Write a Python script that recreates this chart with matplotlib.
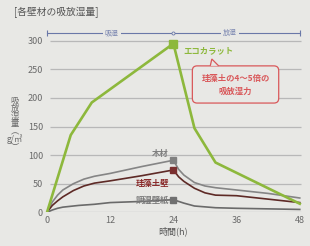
import numpy as np
import matplotlib
matplotlib.use("Agg")
import matplotlib.pyplot as plt
from matplotlib.patches import FancyBboxPatch, Polygon

plt.rcParams['font.family'] = ['Noto Sans CJK JP', 'DejaVu Sans']

# data (hours, g/m2)
eco_h = [0, 4.5, 8.5, 24, 28, 32, 48]
eco = [0, 135, 192, 295, 147, 87, 15]

wood_h = [0, 1, 2, 3, 5, 7, 9, 12, 18, 24, 25, 26, 28, 30, 32, 36, 42, 48]
wood = [0, 18, 30, 39, 50, 58, 63, 68, 80, 91, 75, 65, 52, 46, 43, 39, 33, 25]

dia_h = [0, 1, 2, 3, 5, 7, 9, 12, 18, 24, 25, 26, 28, 30, 32, 36, 42, 48]
dia = [0, 12, 20, 27, 38, 46, 51, 55, 64, 74, 62, 54, 42, 34, 30, 29, 23, 17]

paper_h = [0, 1, 2, 3, 6, 9, 12, 18, 24, 26, 28, 32, 36, 48]
paper = [0, 4, 7, 9, 12, 14, 17, 19, 22, 16, 11, 8, 7, 5]

xticks = [0, 12, 24, 36, 48]
yticks = [0, 50, 100, 150, 200, 250, 300]

bg = '#e8e8e5'
green = '#8db83c'
red = '#d9585a'
blue = '#6a78a8'

fig = plt.figure(figsize=(3.1, 2.46), dpi=100)
fig.patch.set_facecolor(bg)
ax = fig.add_axes([44.4 / 310, 0.137, 258 / 310, 0.744])
ax.set_facecolor(bg)
ax.set_xlim(-0.5, 48.5)
ax.set_ylim(0, 320)
for s in ax.spines.values():
    s.set_visible(False)

ax.hlines(yticks, 0.5, 48.3, color='#b8b8b8', lw=0.9, zorder=0)
ax.set_xticks(xticks)
ax.set_yticks(yticks)
ax.tick_params(length=0, labelsize=6.5, labelcolor='#6a6a6a')
ax.tick_params(axis='y', pad=1)
ax.tick_params(axis='x', pad=3)
ax.set_xlabel('時間(h)', fontsize=6.5, color='#555555', labelpad=1)

# lines
ax.plot(wood_h, wood, color='#858585', lw=1.2, zorder=2)
ax.plot(dia_h, dia, color='#5e2a26', lw=1.2, zorder=2)
ax.plot(paper_h, paper, color='#6a6a6a', lw=1.2, zorder=2)
ax.plot(eco_h, eco, color=green, lw=1.9, zorder=3)
ax.plot([24], [wood[wood_h.index(24)]], 's', ms=4.5, color='#808080', zorder=4)
ax.plot([24], [dia[dia_h.index(24)]], 's', ms=4.5, color='#7a2f2f', zorder=4)
ax.plot([24], [paper[paper_h.index(24)]], 's', ms=4.5, color='#707070', zorder=4)
ax.plot([24], [295], 's', ms=6, color=green, zorder=4)

# labels
ax.text(23, 102, '木材', ha='right', va='center', fontsize=6, color='#808080', fontweight='bold')
ax.text(23.2, 51, '珪藻土壁', ha='right', va='center', fontsize=6, color='#8a2a2a', fontweight='bold')
ax.text(23.2, 21, '調湿壁紙', ha='right', va='center', fontsize=6, color='#7a7a7a', fontweight='bold')
ax.text(25.9, 282, 'エコカラット', ha='left', va='center', fontsize=6, color=green, fontweight='bold')

# callout
box = FancyBboxPatch((27.6, 191), 16.4, 65, boxstyle='round,pad=0,rounding_size=0.9',
                     mutation_aspect=9.2, fc=bg, ec=red, lw=0.9, zorder=5)
ax.add_patch(box)
ax.add_patch(Polygon([(31.0, 256), (31.3, 268), (32.6, 256)], closed=False,
                     fc=bg, ec=red, lw=0.9, zorder=6))
ax.text(35.8, 223, '珪藻土の4〜5倍の\n吸放湿力', ha='center', va='center', fontsize=6,
        color=red, fontweight='bold', linespacing=1.5, zorder=7)

# top bar: absorb / release
ax.plot([0, 48], [313, 313], color=blue, lw=0.8, zorder=2, clip_on=False)
ax.plot([0, 48], [313, 313], '|', color=blue, ms=4, mew=0.8, clip_on=False)
ax.plot([24], [313], 'o', color=blue, ms=2.2, mfc=bg, mew=0.6, clip_on=False, zorder=3)
for xh, t in [(12.3, '吸湿'), (34.8, '放湿')]:
    ax.text(xh, 313, t, ha='center', va='center', fontsize=5, color='#7a86b0',
            bbox=dict(fc=bg, ec='none', pad=1.5), zorder=4, clip_on=False)

# title and y label
fig.text(14 / 310, 1 - 12 / 246, '[各壁材の吸放湿量]', ha='left', va='center',
         fontsize=7, color='#555555')
fig.text(15 / 310, 1 - 96 / 246, '吸\n放\n湿\n量\n︵\ng/㎡\n︶', ha='center', va='top',
         fontsize=6, color='#6a6a6a', linespacing=0.82)

fig.savefig('out.png', dpi=100, facecolor=bg)
